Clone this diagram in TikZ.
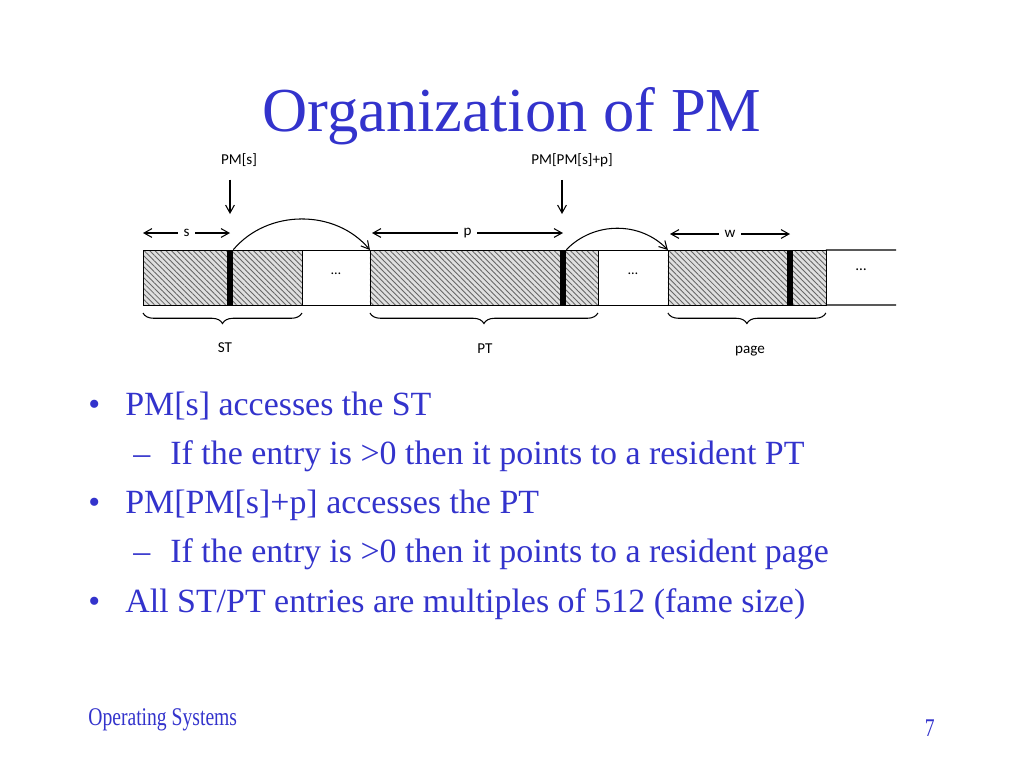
\documentclass[tikz,border=0pt]{standalone}
\usepackage{fontspec}
\setmainfont{Liberation Serif}
\newfontfamily\labelfont{Carlito}
\usetikzlibrary{arrows.meta,positioning,patterns.meta}
\usetikzlibrary{decorations.pathreplacing}
\definecolor{slideblue}{RGB}{51,51,204}
\tikzset{
  hatchbox/.style={draw=black,preaction={fill=gray!25},pattern={Lines[angle=-45,distance=2.2pt,line width=0.5pt]},pattern color=black!60,minimum height=1.1cm,inner sep=0pt,outer sep=0pt,anchor=west},
  gapbox/.style={draw=black,minimum height=1.1cm,inner sep=0pt,outer sep=0pt,anchor=west,font=\labelfont\fontsize{8}{9}\selectfont},
  entrybar/.style={fill=black,minimum width=0.12cm,minimum height=1.1cm,inner sep=0pt},
  lbl/.style={font=\labelfont\fontsize{8.6}{10}\selectfont,inner sep=1pt},
  bullet/.style={anchor=base west,inner sep=0pt,text=slideblue,font=\fontsize{19.3}{22}\selectfont},
  onetip/.style={-{Straight Barb[length=4.5pt,width=5pt]},line width=0.6pt},
  twotips/.style={{Straight Barb[length=4.5pt,width=5pt]}-{Straight Barb[length=4.5pt,width=5pt]},line width=0.6pt},
  bracket/.style={decorate,decoration={brace,mirror,amplitude=6pt},line width=0.6pt}
}
\begin{document}
\begin{tikzpicture}[x=0.02cm,y=-0.02cm]
\useasboundingbox (0,0) rectangle (1024,768);
% title
\node (title) [anchor=base,text=slideblue,font=\fontsize{35.6}{40}\selectfont] at (512,131) {Organization of PM};
% memory strip
\node (st) [hatchbox,minimum width=3.18cm] at (143,277.5) {};
\node (gapa) [gapbox,minimum width=1.36cm,right=0pt of st] {\raisebox{1.2ex}{\dots}};
\node (pt) [hatchbox,minimum width=4.56cm,right=0pt of gapa] {};
\node (gapb) [gapbox,minimum width=1.4cm,right=0pt of pt] {\raisebox{1.2ex}{\dots}};
\node (pg) [hatchbox,minimum width=3.16cm,right=0pt of gapb] {};
\node (sbar) [entrybar] at (230,277.5) {};
\node (pbar) [entrybar] at (563,277.5) {};
\node (wbar) [entrybar] at (790,277.5) {};
\coordinate (endtop) at (896,250);
\coordinate (endbot) at (896,305);
\draw[line width=0.6pt] (pg.north east) -- (endtop);
\draw[line width=0.6pt] (pg.south east) -- (endbot);
\node (more) [lbl] at (861,270) {\dots};
%
\node (pms) [lbl] at (239,160) {PM[s]};
\node (pmp) [lbl] at (572,160) {PM[PM[s]+p]};
\coordinate (sdown) at (230,214);
\coordinate (pdown) at (562,214);
\draw[onetip] ([yshift=-0.22cm]pms.south -| sdown) -- (sdown);
\draw[onetip] ([yshift=-0.22cm]pmp.south -| pdown) -- (pdown);
%
\coordinate (sa) at (143,233); \coordinate (sb) at (230,233);
\coordinate (pa) at (372,233); \coordinate (pb) at (563,233);
\coordinate (wa) at (670,234); \coordinate (wb) at (790,234);
\draw[twotips] (sa) -- node[lbl,fill=white,inner sep=3pt] {s} (sb);
\draw[twotips] (pa) -- node[lbl,fill=white,inner sep=3pt] {p} (pb);
\draw[twotips] (wa) -- node[lbl,fill=white,inner sep=3pt] {w} (wb);
%
\draw[onetip] (sbar.north east) to[bend left=50] (pt.north west);
\draw[onetip] (pbar.north east) to[bend left=46] (pg.north west);
%
\draw[bracket] ([yshift=-0.16cm]st.south west) -- ([yshift=-0.16cm]st.south east);
\draw[bracket] ([yshift=-0.16cm]pt.south west) -- ([yshift=-0.16cm]pt.south east);
\draw[bracket] ([yshift=-0.16cm]pg.south west) -- ([yshift=-0.16cm]pg.south east);
\node (stl) [lbl,anchor=base] at (225,352) {ST};
\node (ptl) [lbl,anchor=base] at (485,353) {PT};
\node (pgl) [lbl,anchor=base] at (750,353) {page};
% bullets
\node (b1) [bullet] at (88,415) {\textbullet};
\node (t1) [bullet] at (125,415) {PM[s] accesses the ST};
\node (d1) [bullet] at (133,464) {--};
\node (t2) [bullet] at (170,464) {If the entry is >0 then it points to a resident PT};
\node (b2) [bullet] at (88,513) {\textbullet};
\node (t3) [bullet] at (125,513) {PM[PM[s]+p] accesses the PT};
\node (d2) [bullet] at (133,562) {--};
\node (t4) [bullet] at (170,562) {If the entry is >0 then it points to a resident page};
\node (b3) [bullet] at (88,612) {\textbullet};
\node (t5) [bullet] at (125,612) {All ST/PT entries are multiples of 512 (fame size)};
% footer
\node (foot) [anchor=base west,inner sep=0pt,text=slideblue,font=\fontsize{14.5}{16}\selectfont] at (88,725) {\scalebox{0.77}[1]{Operating Systems}};
\node (num) [anchor=base east,inner sep=0pt,text=slideblue,font=\fontsize{14.5}{16}\selectfont] at (935,736) {\scalebox{0.77}[1]{7}};
\end{tikzpicture}
\end{document}
